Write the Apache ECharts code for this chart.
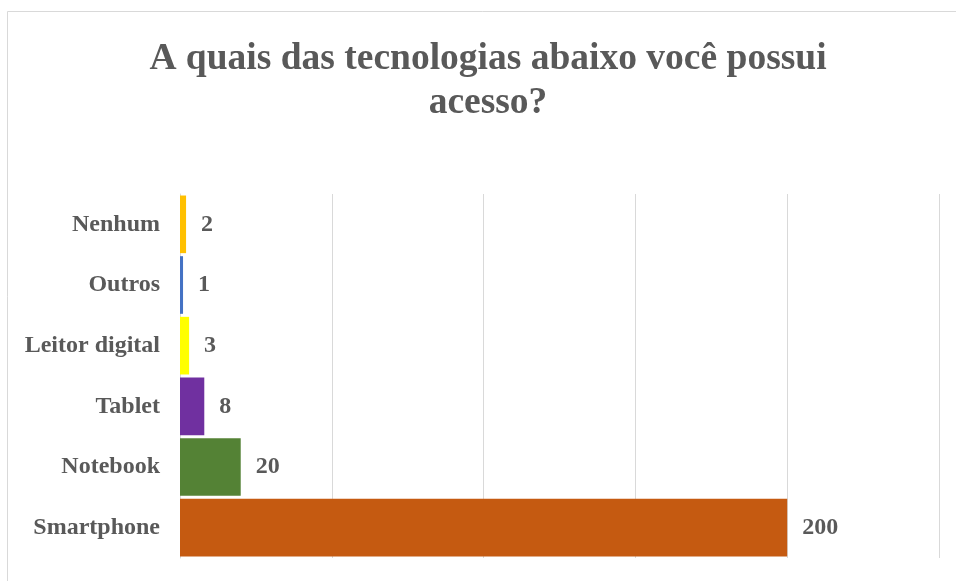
<!DOCTYPE html>
<html>
<head>
<meta charset="utf-8">
<script src="https://cdn.jsdelivr.net/npm/echarts@6/dist/echarts.min.js"></script>
<style>
html,body{margin:0;padding:0;background:#fff;}
#chart{width:956px;height:581px;}
</style>
</head>
<body>
<div id="chart"></div>
<script>
var categories = ['Smartphone', 'Notebook', 'Tablet', 'Leitor digital', 'Outros', 'Nenhum'];
var values = [200, 20, 8, 3, 1, 2];
var colors = ['#C55A11', '#548235', '#7030A0', '#FFFF00', '#4472C4', '#FFC000'];
var titleText = 'A quais das tecnologias abaixo você possui\nacesso?';

var chart = echarts.init(document.getElementById('chart'));
var font = '"Liberation Serif", "Times New Roman", serif';
chart.setOption({
  backgroundColor: '#fff',
  animation: false,
  title: {
    text: titleText,
    left: 483,
    top: 32,
    textAlign: 'center',
    textStyle: {
      fontFamily: font,
      fontWeight: 'bold',
      fontSize: 37.5,
      lineHeight: 44,
      color: '#595959',
      align: 'center'
    }
  },
  graphic: [{
    type: 'rect',
    shape: { x: 7.5, y: 11.5, width: 1200, height: 1200 },
    style: { fill: 'none', stroke: '#d9d9d9', lineWidth: 1 },
    silent: true
  }],
  grid: { left: 180, right: 17, top: 194, bottom: 23 },
  xAxis: {
    type: 'value',
    min: 0, max: 250, interval: 50,
    axisLabel: { show: false },
    axisLine: { show: false },
    axisTick: { show: false },
    splitLine: { show: true, lineStyle: { color: '#d9d9d9', width: 1 } }
  },
  yAxis: {
    type: 'category',
    data: categories,
    axisTick: { show: false },
    axisLine: { show: true, lineStyle: { color: '#d9d9d9', width: 1 } },
    axisLabel: {
      margin: 20,
      fontFamily: font,
      fontWeight: 'bold',
      fontSize: 24,
      color: '#595959',
      padding: [4, 0, 0, 0]
    }
  },
  series: [{
    type: 'bar',
    data: values.map(function (v, i) { return { value: v, itemStyle: { color: colors[i] } }; }),
    barCategoryGap: '5%',
    label: {
      show: true,
      position: 'right',
      distance: 15,
      fontFamily: font,
      fontWeight: 'bold',
      fontSize: 24,
      color: '#595959',
      padding: [4, 0, 0, 0]
    }
  }]
});
</script>
</body>
</html>
